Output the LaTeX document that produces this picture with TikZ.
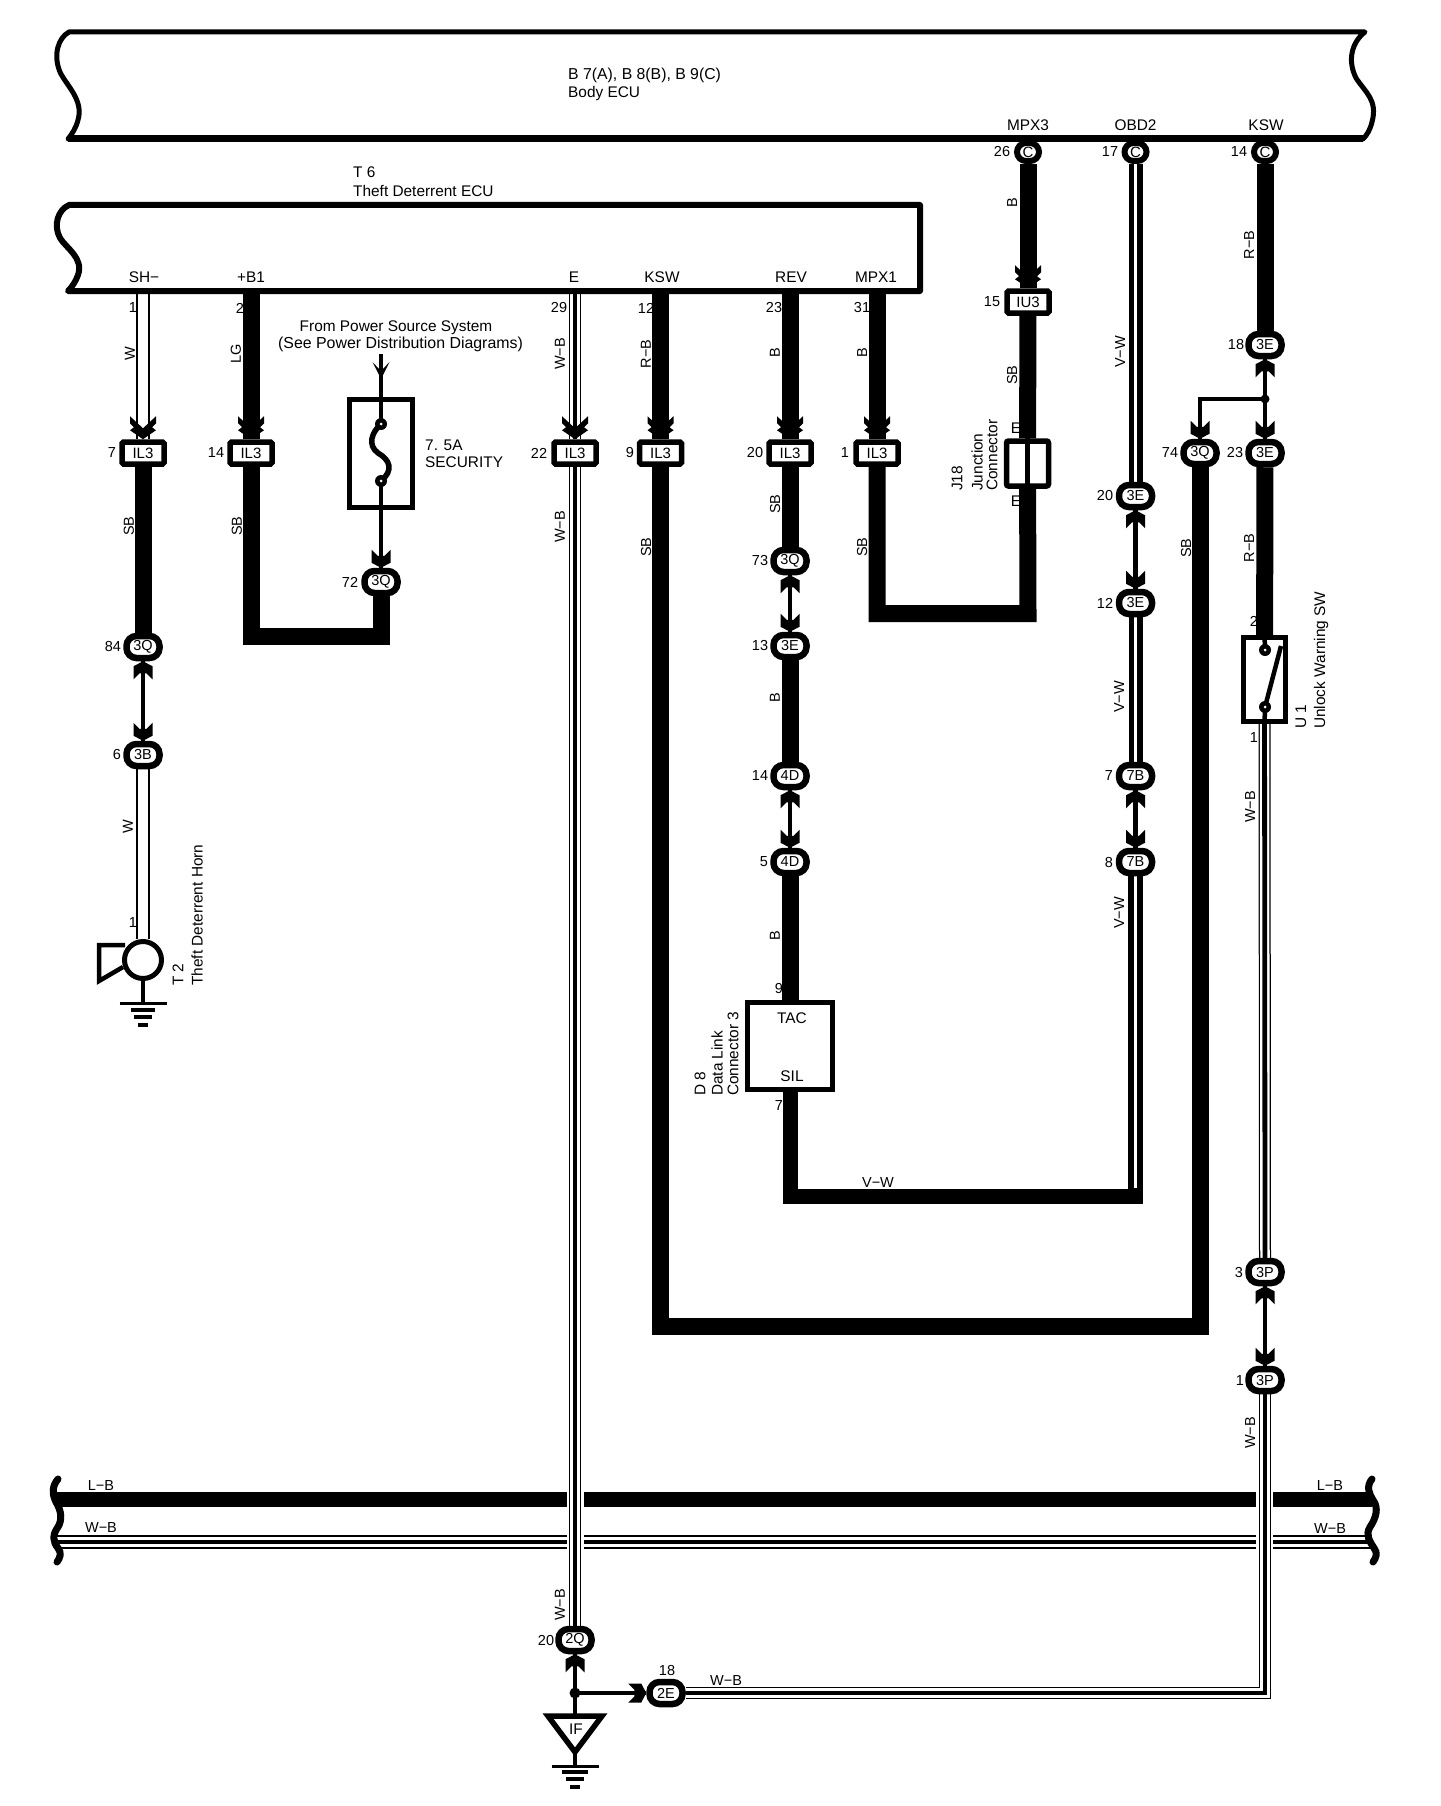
\documentclass[tikz,border=0pt]{standalone}
\usepackage{fontspec}
\setmainfont{Liberation Sans}
\usetikzlibrary{backgrounds}
\tikzset{
    lbl/.style={inner sep=0pt, font=\fontsize{15.4}{17}\selectfont},
    tiny/.style={inner sep=0pt, font=\fontsize{14.5}{16}\selectfont},
    vlbl/.style={tiny, rotate=90},
    vname/.style={lbl, rotate=90, anchor=west},
    boxconn/.style={draw, line width=5.5pt, fill=white, rounded corners=1.5pt, minimum width=42pt, minimum height=22pt, inner sep=0pt, font=\fontsize{15}{16}\selectfont},
    roundconn/.style={draw, line width=6.5pt, fill=white, rounded corners=10pt, minimum width=33pt, minimum height=22pt, inner sep=0pt, font=\fontsize{14.5}{16}\selectfont},
    pinconn/.style={draw, line width=6pt, fill=white, rounded corners=9pt, minimum width=22pt, minimum height=18pt, inner sep=0pt, font=\fontsize{15}{16}\selectfont},
    wirefat/.style={line width=17pt},
    wirethin/.style={line width=4.5pt},
    wirehollow/.style={line width=14pt, postaction={draw=white, line width=10.5pt}},
    wiretri/.style={line width=12pt, postaction={draw=white, line width=9.5pt}, postaction={draw=black, line width=4.8pt}},
    wireslit/.style={line width=14pt, postaction={draw=white, line width=2.5pt}},
    chevbig/.pic={\fill (0,0) -- (-13,-9) -- (-9,-12) -- (-13,-16) -- (-13,-23) -- (0,-11) -- (13,-23) -- (13,-16) -- (9,-12) -- (13,-9) -- cycle;},
    chevsmall/.pic={\fill (0,0) -- (-9.5,-5) -- (-9.5,-18) -- (-3.5,-12) -- (3.5,-12) -- (9.5,-18) -- (9.5,-5) -- cycle;},
    chevopen/.pic={\fill (0,0) -- (-8.5,-17) -- (-2,-10) -- (2,-10) -- (8.5,-17) -- cycle;}
}
\begin{document}
\begin{tikzpicture}[x=1pt, y=-1pt]
    \useasboundingbox (0,0) rectangle (1440,1806);

    % body ecu
    \draw[line width=5pt, line join=round] (69,32) -- (1365,32) .. controls (1352,42) and (1347,60) .. (1356,78) .. controls (1365,92) and (1378,100) .. (1372,122) .. controls (1370,130) and (1367,135) .. (1363,139) -- (68,139) .. controls (72,134) and (76,128) .. (78,120) .. controls (84,100) and (66,85) .. (60,72) .. controls (53,55) and (58,38) .. (69,32) -- cycle;
    \draw[line width=7pt] (68,139) -- (1363,139);
    \node[lbl, anchor=west, font=\fontsize{15.8}{17}\selectfont] (bodyname) at (568,75) {B 7(A), B 8(B), B 9(C)};
    \node[lbl, anchor=west] (bodyecu) at (568,94) {Body ECU};

    % theft ecu
    \draw[line width=6pt, line join=round] (69,205) -- (920,205) -- (920,291) -- (68,291) .. controls (72,287) and (76,281) .. (78,275) .. controls (84,258) and (66,248) .. (60,238) .. controls (53,225) and (58,210) .. (69,205) -- cycle;
    \node[lbl, anchor=west] (t6name) at (353,172) {T 6};
    \node[lbl, anchor=west] (t6ecu) at (353,191) {Theft Deterrent ECU};

    % pin names
    \node[lbl] (shpin) at (144,277) {SH−};
    \node[lbl] (b1pin) at (251,277) {+B1};
    \node[lbl] (epin) at (574,277) {E};
    \node[lbl] (kswpin) at (662,277) {KSW};
    \node[lbl] (revpin) at (791,277) {REV};
    \node[lbl] (mpx1pin) at (876,277) {MPX1};
    \node[lbl] (mpx3pin) at (1028,125.5) {MPX3};
    \node[lbl] (obd2pin) at (1135.5,125.5) {OBD2};
    \node[lbl] (ksw2pin) at (1266,125.5) {KSW};

    % connectors
    \node[pinconn] (c26) at (1028,152) {C};
    \node[pinconn] (c17) at (1135.5,152) {C};
    \node[pinconn] (c14) at (1265,152) {C};
    \node[boxconn] (il7) at (143,453) {IL3};
    \node[boxconn] (il14) at (251,453) {IL3};
    \node[boxconn] (il22) at (575,453) {IL3};
    \node[boxconn] (il9) at (660.5,453) {IL3};
    \node[boxconn] (il20) at (790,453) {IL3};
    \node[boxconn] (il1) at (877,453) {IL3};
    \node[boxconn] (iu15) at (1028,302) {IU3};
    \node[roundconn] (q84) at (143,647) {3Q};
    \node[roundconn] (b6) at (143,755) {3B};
    \node[roundconn] (q72) at (381,582) {3Q};
    \node[roundconn] (q73) at (790,561) {3Q};
    \node[roundconn] (e13) at (790,646) {3E};
    \node[roundconn] (d14) at (790,776) {4D};
    \node[roundconn] (d5) at (790,862) {4D};
    \node[roundconn] (e20) at (1135.5,496) {3E};
    \node[roundconn] (e12) at (1135.5,603) {3E};
    \node[roundconn] (b7) at (1135.5,776) {7B};
    \node[roundconn] (b8) at (1135.5,862) {7B};
    \node[roundconn] (e18) at (1265,345) {3E};
    \node[roundconn] (e23) at (1265,453) {3E};
    \node[roundconn] (q74) at (1200,453) {3Q};
    \node[roundconn] (p3) at (1265,1272) {3P};
    \node[roundconn] (p1) at (1265,1380) {3P};
    \node[roundconn] (q20) at (575,1640) {2Q};
    \node[roundconn] (e182) at (666,1693) {2E};

    % components
    \node[draw, line width=5.5pt, fill=white, minimum width=63pt, minimum height=108pt, inner sep=0pt] (fuse) at (381,453.5) {};
    \node[draw, line width=5pt, fill=white, minimum width=85pt, minimum height=87pt, inner sep=0pt] (dlc) at (790,1046) {};
    \node[draw, line width=5pt, fill=white, minimum width=42pt, minimum height=84pt, inner sep=0pt] (usw) at (1264.5,679.5) {};
    \node[draw, line width=5.5pt, fill=white, rounded corners=2pt, minimum width=42pt, minimum height=45pt, inner sep=0pt] (jc) at (1027.5,463.5) {};
    \node[draw, line width=5pt, fill=white, circle, minimum size=37pt, inner sep=0pt] (horn) at (143,960) {};
    \node[lbl] (tac) at (792,1018) {TAC};
    \node[lbl] (sil) at (792,1076) {SIL};
    \node[lbl, anchor=west] (amps) at (425,445) {7. 5A};
    \node[lbl, anchor=west] (sec) at (425,462) {SECURITY};
    \node[lbl] (from1) at (396,328) {From Power Source System};
    \node[lbl, font=\fontsize{15.9}{17}\selectfont] (from2) at (400.5,344) {(See Power Distribution Diagrams)};
    \node[vname] (t2a) at (178,986) {T 2};
    \node[vname] (t2b) at (197,986) {Theft Deterrent Horn};
    \node[vname] (d8a) at (700,1096) {D 8};
    \node[vname] (d8b) at (717,1096) {Data Link};
    \node[vname] (d8c) at (733,1096) {Connector 3};
    \node[vname] (j18a) at (957,491) {J18};
    \node[vname] (j18b) at (977,491) {Junction};
    \node[vname] (j18c) at (992,491) {Connector};
    \node[vname] (u1a) at (1301,729) {U 1};
    \node[vname] (u1b) at (1321,729) {Unlock Warning SW};

    % junctions and corners
    \coordinate (pshw) at (143,291);
    \coordinate (pb1) at (251,291);
    \coordinate (pe) at (575,291);
    \coordinate (pksw) at (660.5,291);
    \coordinate (prev) at (790,291);
    \coordinate (pmpx) at (877,291);
    \coordinate (k14a) at (251,636);
    \coordinate (k14b) at (381,636);
    \coordinate (kmpxa) at (877,613.5);
    \coordinate (kmpxb) at (1028,613.5);
    \coordinate (kvwa) at (790,1196);
    \coordinate (kvwb) at (1135.5,1196);
    \coordinate (kvwc) at (1135.5,1188);
    \coordinate (kswa) at (660.5,1326.5);
    \coordinate (kswb) at (1200,1326.5);
    \coordinate (kwbs) at (1265,1693);
    \coordinate (splitk) at (1265,399);
    \coordinate (splitl) at (1200,399);
    \coordinate (splitg) at (575,1693);
    \coordinate (supply) at (381,354);
    \coordinate (ftip) at (381,379);
    \coordinate (ftop) at (381,424);
    \coordinate (fbot) at (381,481);
    \coordinate (swa) at (1265,650);
    \coordinate (swb) at (1265,707);
    \coordinate (swc) at (1281,646);
    \coordinate (iftop) at (575,1715);
    \coordinate (ifl) at (548,1716);
    \coordinate (ifr) at (602,1716);
    \coordinate (ifb) at (575,1752);
    \coordinate (ifg) at (575,1766);
    \coordinate (hg) at (143,1003);
    \coordinate (hta) at (125,945);
    \coordinate (htb) at (99,945);
    \coordinate (htc) at (99,981);
    \coordinate (htd) at (123,967);

    \node[lbl] (iftext) at (576,1729) {IF};

    \begin{scope}[on background layer]
        % small labels behind the wires
        \node[tiny] (n1) at (133,308) {1};
        \node[tiny] (n2) at (240,308) {2};
        \node[tiny] (n29) at (559,308) {29};
        \node[tiny] (n12) at (646,308) {12};
        \node[tiny] (n23) at (774,308) {23};
        \node[tiny] (n31) at (862,308) {31};
        \node[tiny] (n7) at (112,453) {7};
        \node[tiny] (n14) at (216,453) {14};
        \node[tiny] (n22) at (539,453) {22};
        \node[tiny] (n9) at (630,453) {9};
        \node[tiny] (n20) at (755,453) {20};
        \node[tiny] (n1b) at (845,453) {1};
        \node[tiny] (n15) at (992,302) {15};
        \node[tiny] (n26) at (1002,152) {26};
        \node[tiny] (n17) at (1110,152) {17};
        \node[tiny] (n14c) at (1239,152) {14};
        \node[tiny] (n18) at (1236,345) {18};
        \node[tiny] (n74) at (1170,453) {74};
        \node[tiny] (n23b) at (1235,453) {23};
        \node[tiny] (n20b) at (1105,496) {20};
        \node[tiny] (n12b) at (1105,603) {12};
        \node[tiny] (n7b) at (1109,776) {7};
        \node[tiny] (n8) at (1109,862) {8};
        \node[tiny] (n73) at (760,561) {73};
        \node[tiny] (n13) at (760,646) {13};
        \node[tiny] (n14d) at (760,776) {14};
        \node[tiny] (n5) at (764,862) {5};
        \node[tiny] (n84) at (113,647) {84};
        \node[tiny] (n6) at (117,755) {6};
        \node[tiny] (n72) at (350,582) {72};
        \node[tiny] (n9b) at (779,988) {9};
        \node[tiny] (n7c) at (779,1105) {7};
        \node[tiny] (n2b) at (1254,621) {2};
        \node[tiny] (n1c) at (1254,738) {1};
        \node[tiny] (n3) at (1239,1272) {3};
        \node[tiny] (n1d) at (1240,1380) {1};
        \node[tiny] (n20c) at (546,1640) {20};
        \node[tiny] (n18b) at (667,1670) {18};
        \node[tiny] (n1e) at (133,923) {1};
        \node[vlbl] (w1) at (130,354) {W};
        \node[vlbl] (w2) at (128,827) {W};
        \node[vlbl] (lg) at (236,354) {LG};
        \node[vlbl] (sb1) at (129,526) {SB};
        \node[vlbl] (sb2) at (237,526) {SB};
        \node[vlbl] (wb1) at (560,354) {W−B};
        \node[vlbl] (wb2) at (560,527) {W−B};
        \node[vlbl] (rb1) at (646,354) {R−B};
        \node[vlbl] (sb3) at (646,547) {SB};
        \node[vlbl] (b1) at (775,353) {B};
        \node[vlbl] (sb4) at (775,504) {SB};
        \node[vlbl] (b2) at (862,353) {B};
        \node[vlbl] (sb5) at (862,547) {SB};
        \node[vlbl] (b3) at (1012,203) {B};
        \node[vlbl] (sb6) at (1012,375) {SB};
        \node[lbl] (jt) at (1016,428) {E};
        \node[lbl] (jb) at (1016,501) {E};
        \node[vlbl] (vw1) at (1120,352) {V−W};
        \node[vlbl] (vw2) at (1119,697) {V−W};
        \node[vlbl] (vw3) at (1119,913) {V−W};
        \node[vlbl] (rb2) at (1249,245) {R−B};
        \node[vlbl] (rb3) at (1249,548) {R−B};
        \node[vlbl] (sb7) at (1186,548) {SB};
        \node[vlbl] (b4) at (775,698) {B};
        \node[vlbl] (b5) at (775,936) {B};
        \node[vlbl] (wb3) at (1250,807) {W−B};
        \node[vlbl] (wb4) at (1250,1433) {W−B};
        \node[vlbl] (wb5) at (560,1605) {W−B};
        \node[tiny] (vw4) at (878,1182) {V−W};
        \node[tiny] (wb6) at (726,1680) {W−B};
        \node[tiny] (lb1) at (101,1485) {L−B};
        \node[tiny] (wb7) at (101,1527) {W−B};
        \node[tiny] (lb2) at (1330,1485) {L−B};
        \node[tiny] (wb8) at (1330,1528) {W−B};

        % wires
        \draw[wirehollow] (pshw) -- (il7);
        \draw[wirefat] (il7) -- (q84);
        \draw[wirethin] (q84) -- (b6);
        \draw[wirehollow] (b6) -- (horn);
        \draw[wirefat] (pb1) -- (il14);
        \draw[wirefat] (il14) -- (k14a) -- (k14b) -- (q72);
        \draw[wirethin] (supply) -- (fuse);
        \draw[wirethin] (fuse) -- (q72);
        \draw[wiretri] (pe) -- (il22);
        \draw[wiretri] (il22) -- (q20);
        \draw[wirefat] (pksw) -- (il9);
        \draw[wirefat] (il9) -- (kswa) -- (kswb) -- (q74);
        \draw[wirefat] (prev) -- (il20);
        \draw[wirefat] (il20) -- (q73);
        \draw[wirethin] (q73) -- (e13);
        \draw[wirefat] (e13) -- (d14);
        \draw[wirethin] (d14) -- (d5);
        \draw[wirefat] (d5) -- (dlc);
        \draw[line width=15pt] (dlc) -- (kvwa) -- (kvwb) -- (b8);
        \draw[wirefat] (pmpx) -- (il1);
        \draw[wirefat] (il1) -- (kmpxa) -- (kmpxb) -- (jc);
        \draw[wirefat] (c26) -- (iu15);
        \draw[wirefat] (iu15) -- (jc);
        \draw[wireslit] (c17) -- (e20);
        \draw[wirethin] (e20) -- (e12);
        \draw[wireslit] (e12) -- (b7);
        \draw[wirethin] (b7) -- (b8);
        \draw[draw=white, line width=2.5pt] (b8) -- (kvwc);
        \draw[wirefat] (c14) -- (e18);
        \draw[wirethin] (e18) -- (e23);
        \draw[wirethin] (splitk) -- (splitl) -- (q74);
        \draw[wirefat] (e23) -- (usw);
        \draw[wiretri] (usw) -- (p3);
        \draw[wirethin] (p3) -- (p1);
        \draw[wiretri] (p1) -- (kwbs) -- (e182);
        \draw[wirethin] (q20) -- (iftop);
        \draw[wirethin] (splitg) -- (e182);

        % buses
        \draw[line width=15pt] (57,1499.5) -- (567,1499.5);
        \draw[line width=15pt] (584,1499.5) -- (1256,1499.5);
        \draw[line width=15pt] (1273,1499.5) -- (1372,1499.5);
        \draw[wiretri, line width=14pt] (57,1542) -- (567,1542);
        \draw[wiretri, line width=14pt] (584,1542) -- (1256,1542);
        \draw[wiretri, line width=14pt] (1273,1542) -- (1372,1542);
    \end{scope}

    % arrow heads
    \pic at (il7.north) {chevbig};
    \pic at (il14.north) {chevbig};
    \pic at (il22.north) {chevbig};
    \pic at (il9.north) {chevbig};
    \pic at (il20.north) {chevbig};
    \pic at (il1.north) {chevbig};
    \pic at (iu15.north) {chevbig};
    \pic at (b6.north) {chevsmall};
    \pic[rotate=180] at (q84.south) {chevsmall};
    \pic at (q72.north) {chevsmall};
    \pic at (ftip) {chevopen};
    \pic[rotate=180] at (q73.south) {chevsmall};
    \pic at (e13.north) {chevsmall};
    \pic[rotate=180] at (d14.south) {chevsmall};
    \pic at (d5.north) {chevsmall};
    \pic[rotate=180] at (e20.south) {chevsmall};
    \pic at (e12.north) {chevsmall};
    \pic[rotate=180] at (b7.south) {chevsmall};
    \pic at (b8.north) {chevsmall};
    \pic[rotate=180] at (e18.south) {chevsmall};
    \pic at (e23.north) {chevsmall};
    \pic at (q74.north) {chevsmall};
    \pic[rotate=180] at (p3.south) {chevsmall};
    \pic at (p1.north) {chevsmall};
    \pic[rotate=180] at (q20.south) {chevsmall};
    \pic[rotate=90] at (e182.west) {chevsmall};

    % fuse, switch and junction insides
    \draw[line width=5.5pt] (ftop) .. controls (372,432) and (367,445) .. (378,453) .. controls (390,460) and (394,470) .. (fbot);
    \draw[wirethin] (fuse.north) -- (ftop);
    \draw[wirethin] (fbot) -- (fuse.south);
    \fill (ftop) circle (6);
    \fill (fbot) circle (6);
    \fill[white] (ftop) circle (1.5);
    \fill[white] (fbot) circle (1.5);
    \draw[wirethin] (usw.north) -- (swa);
    \draw[wirethin] (swb) -- (swc);
    \draw[wirethin] (swb) -- (usw.south);
    \fill (swa) circle (6);
    \fill (swb) circle (6);
    \fill[white] (swa) circle (1.5);
    \fill[white] (swb) circle (1.5);
    \draw[line width=4.5pt] (jc.north) -- (jc.south);
    \fill (splitk) circle (4.5);
    \fill (splitg) circle (5.5);

    % horn
    \draw[line width=4.5pt, line join=miter] (hta) -- (htb) -- (htc) -- (htd);
    \draw[line width=4.5pt] (horn) -- (hg);
    \draw[line width=3pt] (119.5,1003) -- (166.5,1003);
    \draw[line width=3.5pt] (131,1010) -- (155,1010);
    \draw[line width=3.5pt] (134,1017) -- (152,1017);
    \draw[line width=3.5pt] (138,1025) -- (148,1025);

    % ground
    \draw[line width=5.5pt, line join=miter] (ifl) -- (ifr) -- (ifb) -- cycle;
    \draw[wirethin] (ifb) -- (ifg);
    \draw[line width=3pt] (551.5,1766) -- (598.5,1766);
    \draw[line width=3.5pt] (562,1772) -- (588,1772);
    \draw[line width=3.5pt] (566,1779) -- (584,1779);
    \draw[line width=3.5pt] (570,1787) -- (580,1787);

    % bus ends
    \draw[line width=7pt, line cap=round] (58,1479) .. controls (52,1486) and (52,1494) .. (56,1502) .. controls (62,1512) and (62,1520) .. (58,1527) .. controls (52,1535) and (53,1542) .. (58,1548) .. controls (62,1553) and (60,1558) .. (57,1562);
    \draw[line width=7pt, line cap=round] (1372,1479) .. controls (1366,1486) and (1369,1494) .. (1373,1500) .. controls (1379,1508) and (1376,1518) .. (1370,1527) .. controls (1365,1535) and (1370,1542) .. (1374,1548) .. controls (1378,1553) and (1376,1558) .. (1373,1562);
\end{tikzpicture}
\end{document}
